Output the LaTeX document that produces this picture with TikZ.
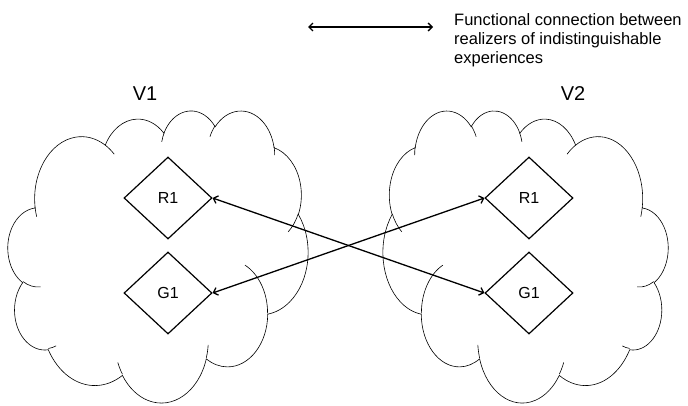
\documentclass[tikz,border=0pt]{standalone}
\usepackage{fontspec}
\setmainfont{Liberation Sans}
\usetikzlibrary{arrows.meta,shapes.geometric}
\tikzset{
  declare function={
    pa(\aa,\ww,\hh)=atan2(\ww*sin(\aa),\hh*cos(\aa));
    rawd(\aa,\ss,\ww,\hh)=pa(\aa+\ss,\ww,\hh)-pa(\aa,\ww,\hh);
    dd(\aa,\ss,\ww,\hh)=rawd(\aa,\ss,\ww,\hh)-360*round((rawd(\aa,\ss,\ww,\hh)-\ss)/360);
  },
  cloudline/.style={line width=0.6pt},
  dia/.style={draw, diamond, line width=1.2pt, minimum width=88pt, minimum height=82pt, inner sep=0pt, font=\fontsize{16}{18}\selectfont},
  conn/.style={line width=1.3pt, {Straight Barb[length=4pt,width=8pt]}-{Straight Barb[length=4pt,width=8pt]}},
  vlabel/.style={font=\fontsize{20}{22}\selectfont},
}
\newcommand{\varc}[4]{arc[start angle={pa(#1,#3,#4)}, delta angle={dd(#1,#2,#3,#4)}, x radius=#3, y radius=#4]}
\newcommand{\pptcloud}{%
  \draw[cloudline] (3.900,14.370)
    \varc{-190.4875}{123.7805}{6.753}{9.190}
    \varc{-144.1024}{89.9452}{5.333}{7.267}
    \varc{-145.8079}{99.7230}{4.365}{5.945}
    \varc{-130.9861}{117.2417}{4.857}{6.595}
    \varc{-78.7089}{109.0269}{5.333}{7.273}
    \varc{-46.2673}{130.2690}{6.775}{9.220}
    \varc{0.6250}{114.0333}{5.785}{7.867}
    \varc{22.4516}{115.1726}{6.752}{9.215}
    \varc{66.2426}{75.7110}{7.720}{10.543}
    \varc{-274.9421}{146.7356}{4.360}{5.918}
    \varc{-246.8285}{152.5189}{4.345}{5.945}
    -- cycle;
  \draw[cloudline]
    (4.693,26.177) \varc{86.742}{26.4295}{4.345}{5.945}
    (6.928,34.899) \varc{73.6105}{11.4475}{4.360}{5.918}
    (16.478,39.090) \varc{137.6242}{14.0811}{6.752}{9.215}
    (28.827,34.751) \varc{6.4533}{15.9984}{6.752}{9.215}
    (34.129,22.954) \varc{-70.2924}{70.9174}{5.785}{7.867}
    (41.798,15.354) \varc{30.3180}{27.7515}{5.333}{7.273}
    (38.324,5.426) \varc{-13.7443}{14.8589}{4.857}{6.595}
    (29.078,3.952) \varc{-149.1815}{18.1954}{4.857}{6.595}
    (22.141,4.720) \varc{-163.4943}{17.6864}{4.365}{5.945}
    (14.000,5.192) \varc{-66.7070}{12.3194}{6.753}{9.190}
    (4.127,15.789) \varc{157.6544}{11.8582}{6.753}{9.190};
}
\begin{document}
\begin{tikzpicture}[x=1pt,y=-1pt]
\useasboundingbox (0,0) rectangle (688,405);
% clouds
\begin{scope}[shift={(8,110)}]
  \begin{scope}[x=6.944pt,y=-6.759pt]
    \pptcloud
  \end{scope}
\end{scope}
\begin{scope}[shift={(668,110)}]
  \begin{scope}[x=-6.597pt,y=-6.759pt]
    \pptcloud
  \end{scope}
\end{scope}
% labels
\node[vlabel] (v1) at (145,94) {V1};
\node[vlabel] (v2) at (573,94) {V2};
% diamonds
\node[dia] (r1l) at (168,198) {R1};
\node[dia] (g1l) at (168,293) {G1};
\node[dia] (r1r) at (529,198) {R1};
\node[dia] (g1r) at (529,293) {G1};
% connections
\draw[conn] (r1l.east) -- (g1r.west);
\draw[conn] (g1l.east) -- (r1r.west);
% legend
\coordinate (la) at (308,27);
\coordinate (lb) at (433,27);
\draw[conn] (la) -- (lb);
\node[anchor=north west, align=left, inner sep=0pt, font=\fontsize{16.5}{19}\selectfont] (legend) at (454,13)
  {Functional connection between\\realizers of indistinguishable\\experiences};
\end{tikzpicture}
\end{document}
